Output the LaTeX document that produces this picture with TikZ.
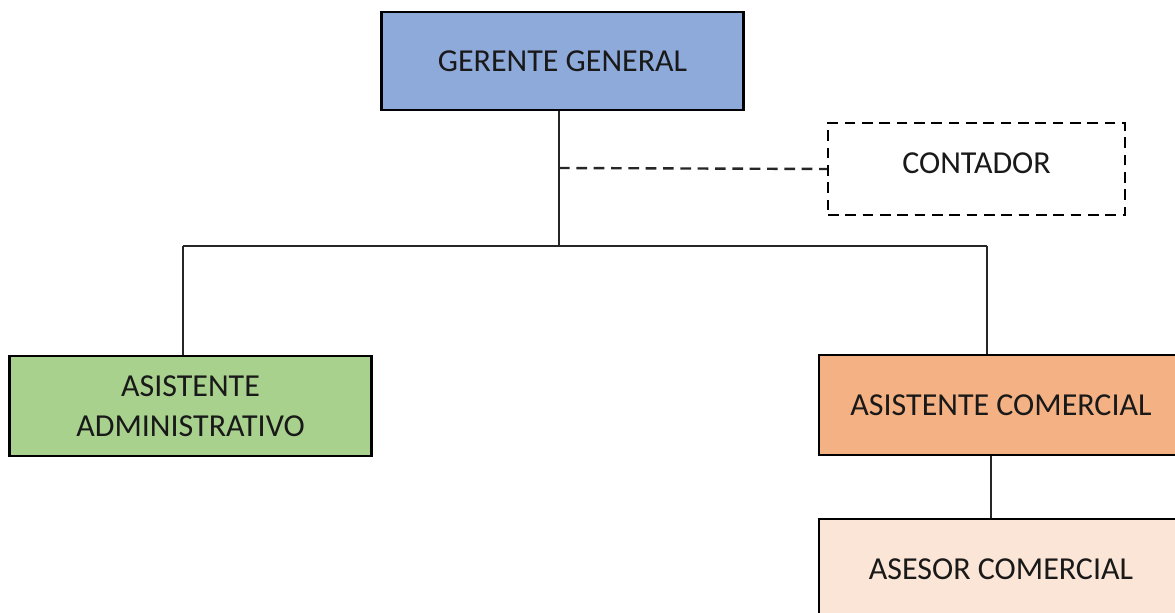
\documentclass[tikz,border=0pt]{standalone}
\usepackage{fontspec}
\setmainfont{Carlito}
\definecolor{gblue}{HTML}{8EAADB}
\definecolor{ggreen}{HTML}{A9D18E}
\definecolor{gorange}{HTML}{F4B183}
\definecolor{gpeach}{HTML}{FBE5D6}
\begin{document}
\begin{tikzpicture}[x=0.75pt,y=-0.75pt,
  orgbox/.style={draw=black,line width=2.2pt,rectangle,align=center,inner sep=0pt,font=\fontsize{24}{30}\selectfont,text=black!90},
  link/.style={draw=black!85,line width=1pt},
  dlink/.style={draw=black!85,line width=1.8pt,dash pattern=on 8pt off 5pt}]
\useasboundingbox (0,0) rectangle (1175,613);
\fill[white] (0,0) rectangle (1175,613);
\node[orgbox,fill=gblue,minimum width=272pt,minimum height=73.5pt] (g) at (562.5,61) {GERENTE GENERAL};
\node[orgbox,fill=white,dlink,minimum width=222.75pt,minimum height=69pt,draw=black] (c) at (976.5,169) {\raisebox{9pt}{CONTADOR}};
\node[orgbox,fill=ggreen,minimum width=272pt,minimum height=75pt] (a) at (190.5,406) {\raisebox{-2pt}{\parbox{260pt}{\centering ASISTENTE\\ADMINISTRATIVO}}};
\node[orgbox,fill=gorange,minimum width=273pt,minimum height=75pt] (cm) at (1001,405) {ASISTENTE COMERCIAL};
\node[orgbox,fill=gpeach,minimum width=273pt,minimum height=75pt] (as) at (1001,569) {ASESOR COMERCIAL};
\coordinate (bus) at (559,246);
\coordinate (ja) at (183,246);
\coordinate (jc) at (987,246);
\coordinate (dj) at (559,168);
\coordinate (jd) at (991,456);
\draw[link] (g.south -| bus) -- (bus);
\draw[link] (ja) -- (jc);
\draw[link] (ja) -- (ja |- a.north);
\draw[link] (jc) -- (jc |- cm.north);
\draw[link] (jd |- cm.south) -- (jd |- as.north);
\draw[dlink] (dj) -- (c.west);
\end{tikzpicture}
\end{document}
